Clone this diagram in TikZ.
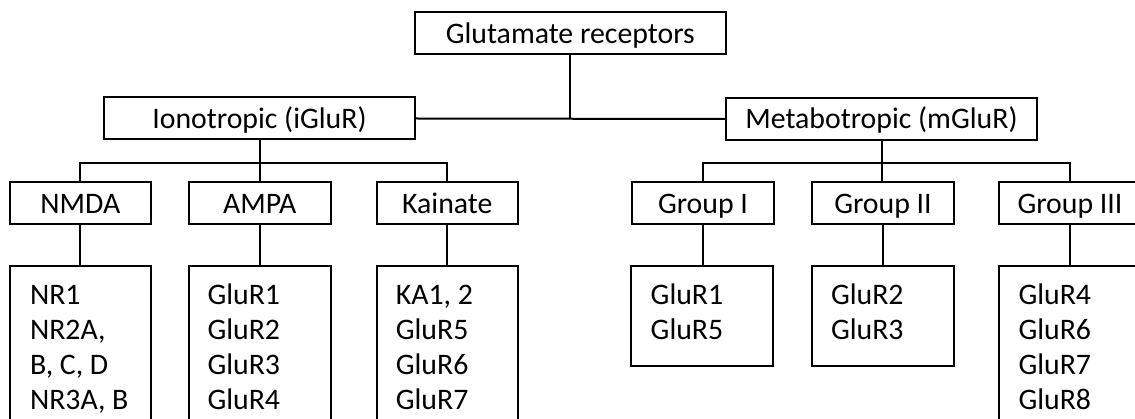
\documentclass[tikz,border=0pt]{standalone}
\usepackage{fontspec}
\setmainfont{Carlito}
\begin{document}
\begin{tikzpicture}[x=1pt,y=-1pt,
  every node/.style={font=\fontsize{29.8}{35}\selectfont},
  box/.style={draw, line width=2pt, inner sep=0pt, text height=22pt, text depth=2pt, minimum height=42pt},
  hbox/.style={box, minimum width=311pt},
  sbox/.style={box, minimum width=141.5pt},
  lbox/.style={draw, line width=2pt, inner sep=0pt, minimum width=141.5pt, minimum height=#1},
  lst/.style={anchor=base west, align=left, inner sep=0pt},
  conn/.style={line width=2pt}]
\useasboundingbox (0,0) rectangle (1135,419);
\clip (0,0) rectangle (1135,419);
% headers
\node[hbox] (glu) at (570.3,33.4) {Glutamate receptors};
\node[hbox] (iono) at (259.5,118.5) {Ionotropic (iGluR)};
\node[hbox] (meta) at (881.5,119) {Metabotropic (mGluR)};
\node[sbox] (nmda) at (80.3,203.3) {NMDA};
\node[sbox] (ampa) at (259.8,203.3) {AMPA};
\node[sbox] (kain) at (447.3,203.3) {Kainate};
\node[sbox] (g1) at (703,203.3) {Group I};
\node[sbox] (g2) at (883,203.3) {Group II};
\node[sbox] (g3) at (1070,203.3) {Group III};
% lower boxes
\node[lbox=184pt] (nmdaL) at (80.5,358) {};
\node[lbox=184pt] (ampaL) at (259.8,358) {};
\node[lbox=184pt] (kainL) at (447.3,358) {};
\node[lbox=100pt] (g1L) at (702,316) {};
\node[lbox=100pt] (g2L) at (882.8,316) {};
\node[lbox=184pt] (g3L) at (1070,358) {};
% lists (base anchor = baseline of last line)
\node[lst] (t1) at (29.8,409.3) {NR1\\NR2A,\\B, C, D\\NR3A, B};
\node[lst] (t2) at (207.3,409.3) {GluR1\\GluR2\\GluR3\\GluR4};
\node[lst] (t3) at (395.6,409.3) {KA1, 2\\GluR5\\GluR6\\GluR7};
\node[lst] (t4) at (650.5,339.3) {GluR1\\GluR5};
\node[lst] (t5) at (830.8,339.3) {GluR2\\GluR3};
\node[lst] (t6) at (1018.3,409.3) {GluR4\\GluR6\\GluR7\\GluR8};
% connectors
\coordinate (ibar) at (260,163.3);
\coordinate (mbar) at (882.5,163.3);
\draw[conn] (glu.south) -- (glu.south |- iono.east);
\draw[conn] (iono.east) -- (meta.west);
\draw[conn] (iono.south) -- (iono.south |- ampa.north);
\draw[conn] (nmda.north) -- (nmda.north |- ibar) -- (kain.north |- ibar) -- (kain.north);
\draw[conn] (meta.south) -- (meta.south |- g2.north);
\draw[conn] (g1.north) -- (g1.north |- mbar) -- (g3.north |- mbar) -- (g3.north);
\draw[conn] (nmda.south) -- (nmda.south |- nmdaL.north);
\draw[conn] (ampa.south) -- (ampa.south |- ampaL.north);
\draw[conn] (kain.south) -- (kain.south |- kainL.north);
\draw[conn] (g1.south) -- (g1.south |- g1L.north);
\draw[conn] (g2.south) -- (g2.south |- g2L.north);
\draw[conn] (g3.south) -- (g3.south |- g3L.north);
\end{tikzpicture}
\end{document}
